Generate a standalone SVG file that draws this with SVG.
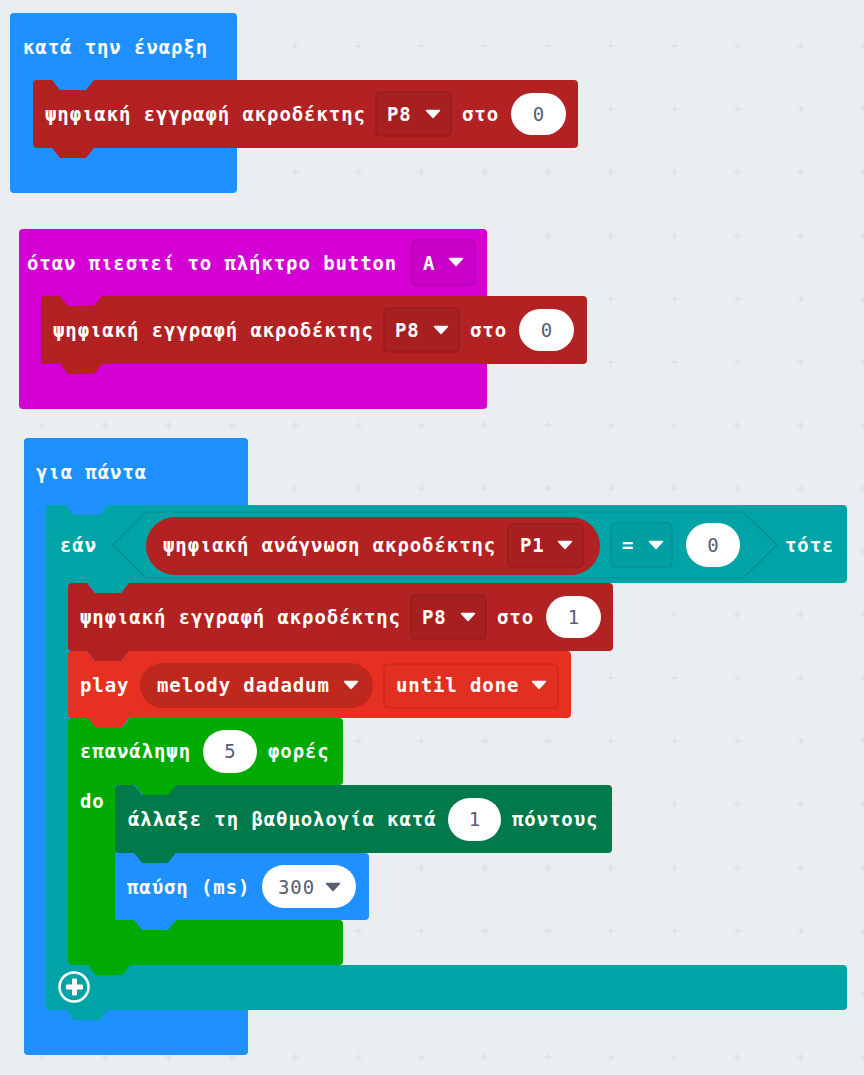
<svg xmlns="http://www.w3.org/2000/svg" width="864" height="1075" viewBox="0 0 864 1075">
<style>
.t{font-family:"DejaVu Sans Mono","Liberation Mono",monospace;font-size:19px;font-weight:bold;fill:#fff;letter-spacing:0.9px}
.v{font-family:"DejaVu Sans Mono","Liberation Mono",monospace;font-size:19px;fill:#575e75;text-anchor:middle}
.vl{font-family:"DejaVu Sans Mono","Liberation Mono",monospace;font-size:19px;fill:#575e75;letter-spacing:0.9px}
.tri{fill:#fff;stroke:#fff;stroke-width:1.5;stroke-linejoin:round}
.trid{fill:#575e75;stroke:#575e75;stroke-width:1.5;stroke-linejoin:round}
.oval{fill:#fff}
.blue{fill:#1e90ff}
.pin{fill:#b22222}
.mag{fill:#d400d4}
.teal{fill:#00a4a6}
.music{fill:#e63022}
.loop{fill:#00aa00}
.game{fill:#007a4b}
.ddpin{fill:#a81f1f;stroke:#8e1a1a;stroke-width:1}
.ddmag{fill:#c800c8;stroke:#a800a8;stroke-width:1}
.ddteal{fill:#00a0a2;stroke:#008a8c;stroke-width:1}
.ddmusic{fill:#e32f21;stroke:#c1281c;stroke-width:1}
</style>
<defs>
<pattern id="grid" x="263.4" y="14.4" width="63.2" height="63.2" patternUnits="userSpaceOnUse">
<path d="M27.6,31.6h8M31.6,27.6v8" stroke="#d8dce0" stroke-width="1"/>
</pattern>
<path id="tridef" d="M-6.5,-3.5 L6.5,-3.5 L0,3.5 Z"/>
</defs>
<rect width="864" height="1075" fill="#ebeef0"/>
<rect width="864" height="1075" fill="url(#grid)"/>

<!-- on start -->
<g id="on-start">
<rect class="blue" x="10" y="13" width="227" height="180" rx="4"/>
<text class="t" x="23" y="54">κατά την έναρξη</text>
</g>
<g id="write-p8-start" transform="translate(33,80)">
<path class="pin" d="M0,4 a4,4 0 0 1 4,-4 H19 l8,10 h26 l8,-10 H541 a4,4 0 0 1 4,4 V64 a4,4 0 0 1 -4,4 H61 l-8,10 h-26 l-8,-10 H4 a4,4 0 0 1 -4,-4 Z"/>
<text class="t" x="12" y="41">ψηφιακή εγγραφή ακροδέκτης</text>
<rect class="ddpin" x="343" y="12" width="75" height="44" rx="4"/>
<text class="t" x="354" y="41">P8</text>
<use href="#tridef" class="tri" x="400" y="34"/>
<text class="t" x="429" y="41">στο</text>
<rect class="oval" x="478" y="13" width="55" height="42" rx="21"/>
<text class="v" x="505.5" y="41">0</text>
</g>

<!-- on button pressed -->
<g id="on-button">
<rect class="mag" x="19" y="229" width="468" height="180" rx="4"/>
<text class="t" x="27" y="270">όταν πιεστεί το πλήκτρο button</text>
<rect class="ddmag" x="412" y="240" width="63" height="45" rx="4"/>
<text class="t" x="423" y="270">A</text>
<use href="#tridef" class="tri" x="456" y="262"/>
</g>
<g id="write-p8-button" transform="translate(41,296)">
<path class="pin" d="M0,4 a4,4 0 0 1 4,-4 H19 l8,10 h26 l8,-10 H542 a4,4 0 0 1 4,4 V64 a4,4 0 0 1 -4,4 H61 l-8,10 h-26 l-8,-10 H4 a4,4 0 0 1 -4,-4 Z"/>
<text class="t" x="12" y="41">ψηφιακή εγγραφή ακροδέκτης</text>
<rect class="ddpin" x="343" y="12" width="75" height="44" rx="4"/>
<text class="t" x="354" y="41">P8</text>
<use href="#tridef" class="tri" x="400" y="34"/>
<text class="t" x="429" y="41">στο</text>
<rect class="oval" x="478" y="13" width="55" height="42" rx="21"/>
<text class="v" x="505.5" y="41">0</text>
</g>

<!-- forever -->
<g id="forever">
<rect class="blue" x="24" y="438" width="224" height="617" rx="4"/>
<text class="t" x="36" y="479">για πάντα</text>
</g>

<!-- if -->
<g id="if-then">
<path class="teal" d="M46,509 a4,4 0 0 1 4,-4 H66 l8,10 h26 l8,-10 H843 a4,4 0 0 1 4,4 V579 a4,4 0 0 1 -4,4 H130 l-8,10 h-26 l-8,-10 H68 V965 H843 a4,4 0 0 1 4,4 V1006 a4,4 0 0 1 -4,4 H108 l-8,10 h-26 l-8,-10 H50 a4,4 0 0 1 -4,-4 Z"/>
<text class="t" x="60" y="552">εάν</text>
<text class="t" x="785" y="552">τότε</text>
<circle cx="74" cy="987" r="14.5" fill="none" stroke="#fff" stroke-width="2.5"/>
<rect x="66" y="984.5" width="17" height="5" rx="1" fill="#fff"/>
<rect x="72" y="978.5" width="5" height="17" rx="1" fill="#fff"/>
</g>
<g id="compare">
<polygon class="teal" points="113,545 146,512 743,512 777,545 743,578 146,578" stroke="#008c8e" stroke-width="1.2"/>
<rect class="ddteal" x="611" y="523" width="61" height="44" rx="4"/>
<text class="t" x="622" y="552">=</text>
<use href="#tridef" class="tri" x="656" y="545"/>
<rect class="oval" x="686" y="523" width="54" height="44" rx="22"/>
<text class="v" x="713" y="552">0</text>
</g>
<g id="read-p1">
<rect class="pin" x="146" y="517" width="454" height="58" rx="29"/>
<text class="t" x="163" y="552">ψηφιακή ανάγνωση ακροδέκτης</text>
<rect class="ddpin" x="508" y="524" width="75" height="43" rx="4"/>
<text class="t" x="520" y="552">P1</text>
<use href="#tridef" class="tri" x="565" y="545"/>
</g>
<g id="write-p8-if" transform="translate(68,583)">
<path class="pin" d="M0,4 a4,4 0 0 1 4,-4 H19 l8,10 h26 l8,-10 H541 a4,4 0 0 1 4,4 V64 a4,4 0 0 1 -4,4 H61 l-8,10 h-26 l-8,-10 H4 a4,4 0 0 1 -4,-4 Z"/>
<text class="t" x="12" y="41">ψηφιακή εγγραφή ακροδέκτης</text>
<rect class="ddpin" x="343" y="12" width="75" height="44" rx="4"/>
<text class="t" x="354" y="41">P8</text>
<use href="#tridef" class="tri" x="400" y="34"/>
<text class="t" x="429" y="41">στο</text>
<rect class="oval" x="478" y="13" width="55" height="42" rx="21"/>
<text class="v" x="505.5" y="41">1</text>
</g>
<g id="play" transform="translate(68,651)">
<path class="music" d="M0,4 a4,4 0 0 1 4,-4 H19 l8,10 h26 l8,-10 H499 a4,4 0 0 1 4,4 V63 a4,4 0 0 1 -4,4 H61 l-8,10 h-26 l-8,-10 H4 a4,4 0 0 1 -4,-4 Z"/>
<text class="t" x="12" y="41">play</text>
<rect x="72" y="12" width="233" height="45" rx="22.5" fill="#bf281c"/>
<text class="t" x="89" y="41">melody dadadum</text>
<use href="#tridef" class="tri" x="283" y="34"/>
<rect class="ddmusic" x="316" y="13" width="174" height="44" rx="4"/>
<text class="t" x="328" y="41">until done</text>
<use href="#tridef" class="tri" x="471" y="34"/>
</g>
<g id="repeat">
<path class="loop" d="M68,722 a4,4 0 0 1 4,-4 H88 l8,10 h26 l8,-10 H339 a4,4 0 0 1 4,4 V781 a4,4 0 0 1 -4,4 H177 l-8,10 h-26 l-8,-10 H115 V920 H339 a4,4 0 0 1 4,4 V961 a4,4 0 0 1 -4,4 H130 l-8,10 h-26 l-8,-10 H72 a4,4 0 0 1 -4,-4 Z"/>
<text class="t" x="80" y="758">επανάληψη</text>
<rect class="oval" x="203" y="730" width="54" height="43" rx="21.5"/>
<text class="v" x="230" y="758">5</text>
<text class="t" x="268" y="758">φορές</text>
<text class="t" x="80" y="808">do</text>
</g>
<g id="change-score" transform="translate(115,785)">
<path class="game" d="M0,4 a4,4 0 0 1 4,-4 H19 l8,10 h26 l8,-10 H493 a4,4 0 0 1 4,4 V64 a4,4 0 0 1 -4,4 H61 l-8,10 h-26 l-8,-10 H4 a4,4 0 0 1 -4,-4 Z"/>
<text class="t" x="13" y="41">άλλαξε τη βαθμολογία κατά</text>
<rect class="oval" x="333" y="13" width="53" height="43" rx="21.5"/>
<text class="v" x="359.5" y="41">1</text>
<text class="t" x="397" y="41">πόντους</text>
</g>
<g id="pause" transform="translate(115,853)">
<path class="blue" d="M0,4 a4,4 0 0 1 4,-4 H19 l8,10 h26 l8,-10 H250 a4,4 0 0 1 4,4 V63 a4,4 0 0 1 -4,4 H61 l-8,10 h-26 l-8,-10 H4 a4,4 0 0 1 -4,-4 Z"/>
<text class="t" x="12" y="41">παύση (ms)</text>
<rect class="oval" x="147" y="12" width="94" height="43" rx="21.5"/>
<text class="vl" x="163" y="41">300</text>
<use href="#tridef" class="trid" x="218" y="34"/>
</g>
<g id="connectors"></g>
</svg>
